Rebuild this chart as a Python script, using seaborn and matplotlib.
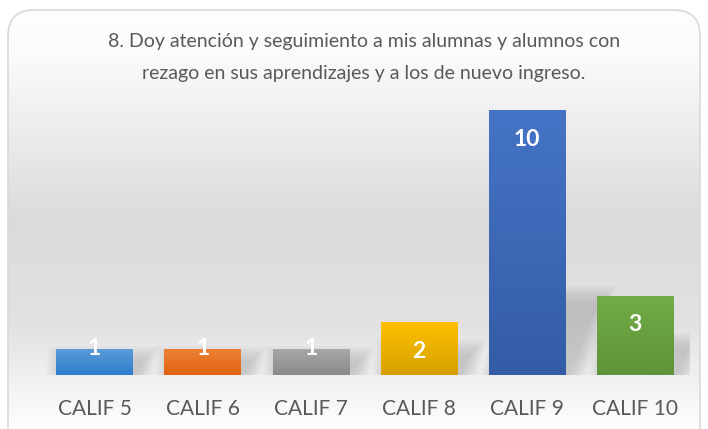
import numpy as np
import matplotlib
matplotlib.use('Agg')
import matplotlib.pyplot as plt
import seaborn as sns
from matplotlib.patches import FancyBboxPatch, Polygon
from matplotlib.colors import to_rgb

sns.set_style('white')
plt.rcParams['font.family'] = ['Lato', 'DejaVu Sans']

# data
categories = ['CALIF 5', 'CALIF 6', 'CALIF 7', 'CALIF 8', 'CALIF 9', 'CALIF 10']
values = [1, 1, 1, 2, 10, 3]
title_lines = ['8. Doy atención y seguimiento a mis alumnas y alumnos con',
               'rezago en sus aprendizajes y a los de nuevo ingreso.']

top_colors = ['#5D9CD8', '#EE8236', '#A8A8A8', '#FFC000', '#4574C6', '#72AD47']
bottom_colors = ['#2E7DCC', '#DF6210', '#8A8A8A', '#D6A000', '#335CA5', '#5E9339']
mid_colors = [tuple((np.array(to_rgb(a)) + np.array(to_rgb(b))) / 2)
              for a, b in zip(top_colors, bottom_colors)]

W, H = 708, 429
fig = plt.figure(figsize=(W / 100, H / 100), dpi=100)
fig.patch.set_facecolor('white')

# background card with vertical gradient
bg = fig.add_axes([0, 0, 1, 1])
bg.set_xlim(0, W)
bg.set_ylim(H, 0)
bg.axis('off')
card = FancyBboxPatch((8, 10), 692, 450, boxstyle='round,pad=0,rounding_size=26',
                      facecolor='none', edgecolor='#d9d9d9', linewidth=1.2, zorder=3)
bg.add_patch(card)
t = np.linspace(0, 1, 256)
shade = np.interp(t, [0, 0.1, 0.5, 0.75, 1.0], [0.995, 0.985, 0.86, 0.885, 0.995])
grad = np.dstack([shade, shade, shade])[0][:, None, :]
img = bg.imshow(grad, extent=[8, 700, 429, 10], aspect='auto', zorder=1)
img.set_clip_path(card)
bg.set_xlim(0, W)
bg.set_ylim(H, 0)

for i, line in enumerate(title_lines):
    fig.text(364 / W, 1 - (42 + 31 * i) / H, line, ha='center', va='center',
             fontsize=14, color='#595959')

# main axes
ax = fig.add_axes([40.5 / W, 1 - 375 / H, 649 / W, 275 / H])
ax.patch.set_alpha(0)
sns.barplot(x=categories, y=values, hue=categories, palette=mid_colors,
            width=0.71, legend=False, ax=ax, zorder=3, linewidth=0)

ymax = 275 / 26.5
for p, c_top, c_bot, v in zip(ax.patches, top_colors, bottom_colors, values):
    x0, w, h = p.get_x(), p.get_width(), p.get_height()
    x1 = x0 + w
    # soft shadow
    sh = 0.25 * h + 0.25
    sx = 0.025 * h + 0.06
    for k in range(14):
        e = 0.012 * k
        poly = Polygon([(x0 + 0.05 - e, -0.05 - e * 2), (x1 + 0.02 + e, -0.05 - e * 2),
                        (x1 + sx + e, sh + e * 4), (x0 + sx - e, sh + e * 4)],
                       closed=True, facecolor='#6a6a6a', edgecolor='none',
                       alpha=0.018, zorder=2)
        ax.add_patch(poly)
    # gradient fill
    ct, cb = np.array(to_rgb(c_top)), np.array(to_rgb(c_bot))
    s = np.linspace(0, 1, 64)[:, None]
    g = (ct * (1 - s) + cb * s)[:, None, :]
    im = ax.imshow(g, extent=[x0, x1, 0, h], aspect='auto', zorder=4)
    im.set_clip_path(p)
    # value label
    ly = v - 1.1 if v - 1.1 > 0.5 else v
    ax.text(x0 + w / 2, ly, str(v), ha='center', va='center', color='white',
            fontsize=16.5, fontweight='bold', zorder=5)

ax.set_xlim(-0.5, len(categories) - 0.5)
ax.set_ylim(0, ymax)
ax.set_yticks([])
ax.set_ylabel('')
ax.set_xlabel('')
for sp in ax.spines.values():
    sp.set_visible(False)
ax.tick_params(axis='x', length=0, pad=17, labelsize=15, labelcolor='#595959')

fig.savefig('out.png', dpi=100)
